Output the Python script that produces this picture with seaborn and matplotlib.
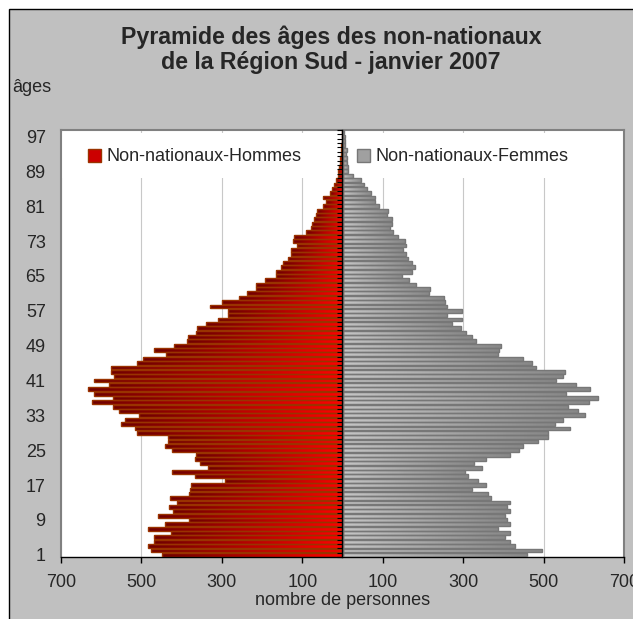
import numpy as np
import pandas as pd
import matplotlib
matplotlib.use("Agg")
import matplotlib.pyplot as plt
from matplotlib.colors import LinearSegmentedColormap
from matplotlib.patches import Patch, Rectangle
import seaborn as sns

ages = list(range(1, 99))
hommes = [449, 477, 483, 468, 468, 426, 483, 441, 382, 459,
          421, 432, 412, 428, 382, 379, 376, 292, 367, 425,
          335, 354, 367, 364, 425, 441, 433, 435, 510, 517,
          551, 542, 507, 557, 571, 622, 570, 619, 632, 580,
          617, 567, 576, 576, 512, 495, 439, 469, 418, 387,
          383, 364, 362, 339, 309, 284, 284, 329, 299, 257,
          238, 215, 215, 192, 165, 165, 154, 149, 135, 129,
          127, 114, 122, 121, 91, 79, 77, 71, 66, 63,
          48, 40, 49, 31, 27, 21, 15, 12, 10, 8,
          6, 5, 4, 3, 3, 2, 2, 1]
femmes = [458, 496, 428, 416, 405, 416, 387, 416, 408, 405,
          416, 410, 416, 369, 362, 323, 356, 337, 312, 304,
          346, 326, 356, 416, 438, 449, 486, 510, 510, 565,
          529, 548, 602, 586, 561, 613, 635, 557, 615, 580,
          532, 548, 554, 482, 470, 449, 387, 389, 395, 331,
          321, 308, 294, 273, 298, 259, 296, 259, 254, 253,
          215, 217, 182, 166, 147, 172, 180, 172, 163, 159,
          151, 158, 155, 139, 126, 119, 122, 124, 111, 114,
          91, 82, 82, 72, 60, 54, 47, 27, 14, 14,
          12, 10, 9, 10, 7, 6, 5, 4]
xticks = [-700, -500, -300, -100, 100, 300, 500, 700]
xtick_labels = ["700", "500", "300", "100", "100", "300", "500", "700"]
yticks = list(range(1, 98, 8))
label_h = "Non-nationaux-Hommes"
label_f = "Non-nationaux-Femmes"

sns.set_style("white")
plt.rcParams["font.family"] = ["Liberation Sans", "DejaVu Sans"]
FS = 13

df = pd.DataFrame({
    "age": ages * 2,
    "effectif": [-v for v in hommes] + femmes,
    "sexe": [label_h] * len(ages) + [label_f] * len(ages),
})

fig = plt.figure(figsize=(6.33, 6.19), dpi=100)
fig.patch.set_facecolor("white")
fig.add_artist(Rectangle((9 / 633, -0.05), 1.1, 1.05 - 9 / 619,
                         transform=fig.transFigure, facecolor="#c0c0c0",
                         edgecolor="black", lw=1, zorder=-1))

ax = fig.add_axes([61 / 633, 62 / 619, 563 / 633, 427 / 619])
sns.barplot(data=df, x="effectif", y="age", hue="sexe", orient="h",
            native_scale=True, dodge=False, width=0.9, saturation=1,
            palette=["#cc0000", "#a0a0a0"], errorbar=None, legend=False, ax=ax)

# degrade par barre, comme dans Excel
cm_h = LinearSegmentedColormap.from_list("h", ["#700000", "#ff0000"])
cm_f = LinearSegmentedColormap.from_list("f", ["#c4c4c4", "#888888"])
grad = np.linspace(0, 1, 64).reshape(1, -1)
for bar in list(ax.patches):
    b = bar.get_bbox()
    x0, x1 = sorted([b.x0, b.x1])
    y0, y1 = sorted([b.y0, b.y1])
    if x1 - x0 == 0:
        continue
    men = x0 < 0
    im = ax.imshow(grad, extent=[x0, x1, y0, y1], cmap=cm_h if men else cm_f,
                   aspect="auto", interpolation="bilinear", zorder=2)
    im.set_clip_path(bar)
    bar.set_facecolor("none")
    bar.set_edgecolor("#993300" if men else "#777777")
    bar.set_linewidth(1.0)
    bar.set_zorder(3)

ax.set_xlim(-700, 700)
ax.set_ylim(0.5, 98.5)
ax.set_xticks(xticks, xtick_labels)
ax.set_yticks(yticks, [str(t) for t in yticks])
ax.tick_params(axis="x", direction="out", length=4, width=1, color="black",
               pad=8, labelsize=FS, bottom=True)
ax.tick_params(axis="y", length=0, pad=11, labelsize=FS)
ax.set_xlabel("nombre de personnes", fontsize=FS, labelpad=1)
ax.set_ylabel("")
ax.xaxis.grid(True, color="#c8c8c8", lw=0.8)
ax.set_axisbelow(True)
for side in ["left", "top", "right"]:
    ax.spines[side].set_color("#808080")
    ax.spines[side].set_linewidth(1.5)
ax.spines["bottom"].set_color("black")
ax.spines["bottom"].set_linewidth(1.0)

# axe des ages au centre (valeur 0), graduations entre classes, vers la gauche
sec = ax.secondary_yaxis(0.49999)
sec.set_yticks(np.array(ages + [ages[-1] + 1]) - 0.5)
sec.set_yticklabels([])
sec.tick_params(length=3.5, width=0.8, color="black", direction="out",
                labelleft=False, labelright=False)
for side in ["left", "right"]:
    sec.spines[side].set_color("black")
    sec.spines[side].set_linewidth(1.0)
sec.set_zorder(5)

# fond blanc de la legende
ax.add_patch(Rectangle((0, 0.888), 1, 0.105, transform=ax.transAxes,
                       facecolor="white", edgecolor="none", zorder=1))
handles = [Patch(facecolor="#cc0000", edgecolor="#993300"),
           Patch(facecolor="#a0a0a0", edgecolor="#777777")]
ax.legend(handles, [label_h, label_f], ncol=2, loc="center left",
          bbox_to_anchor=(0.048, 0.937), frameon=False, fontsize=FS,
          handlelength=0.72, handleheight=0.72, handletextpad=0.28,
          columnspacing=3.1, borderpad=0, borderaxespad=0)

fig.text(331 / 633, 1 - 37 / 619, "Pyramide des âges des non-nationaux",
         fontsize=16.7, fontweight="bold", ha="center", va="center")
fig.text(331 / 633, 1 - 63 / 619, "de la Région Sud - janvier 2007",
         fontsize=16.7, fontweight="bold", ha="center", va="center")
fig.text(12 / 633, 1 - 88 / 619, "âges", fontsize=FS, ha="left", va="center")

fig.savefig("out.png", dpi=100)
